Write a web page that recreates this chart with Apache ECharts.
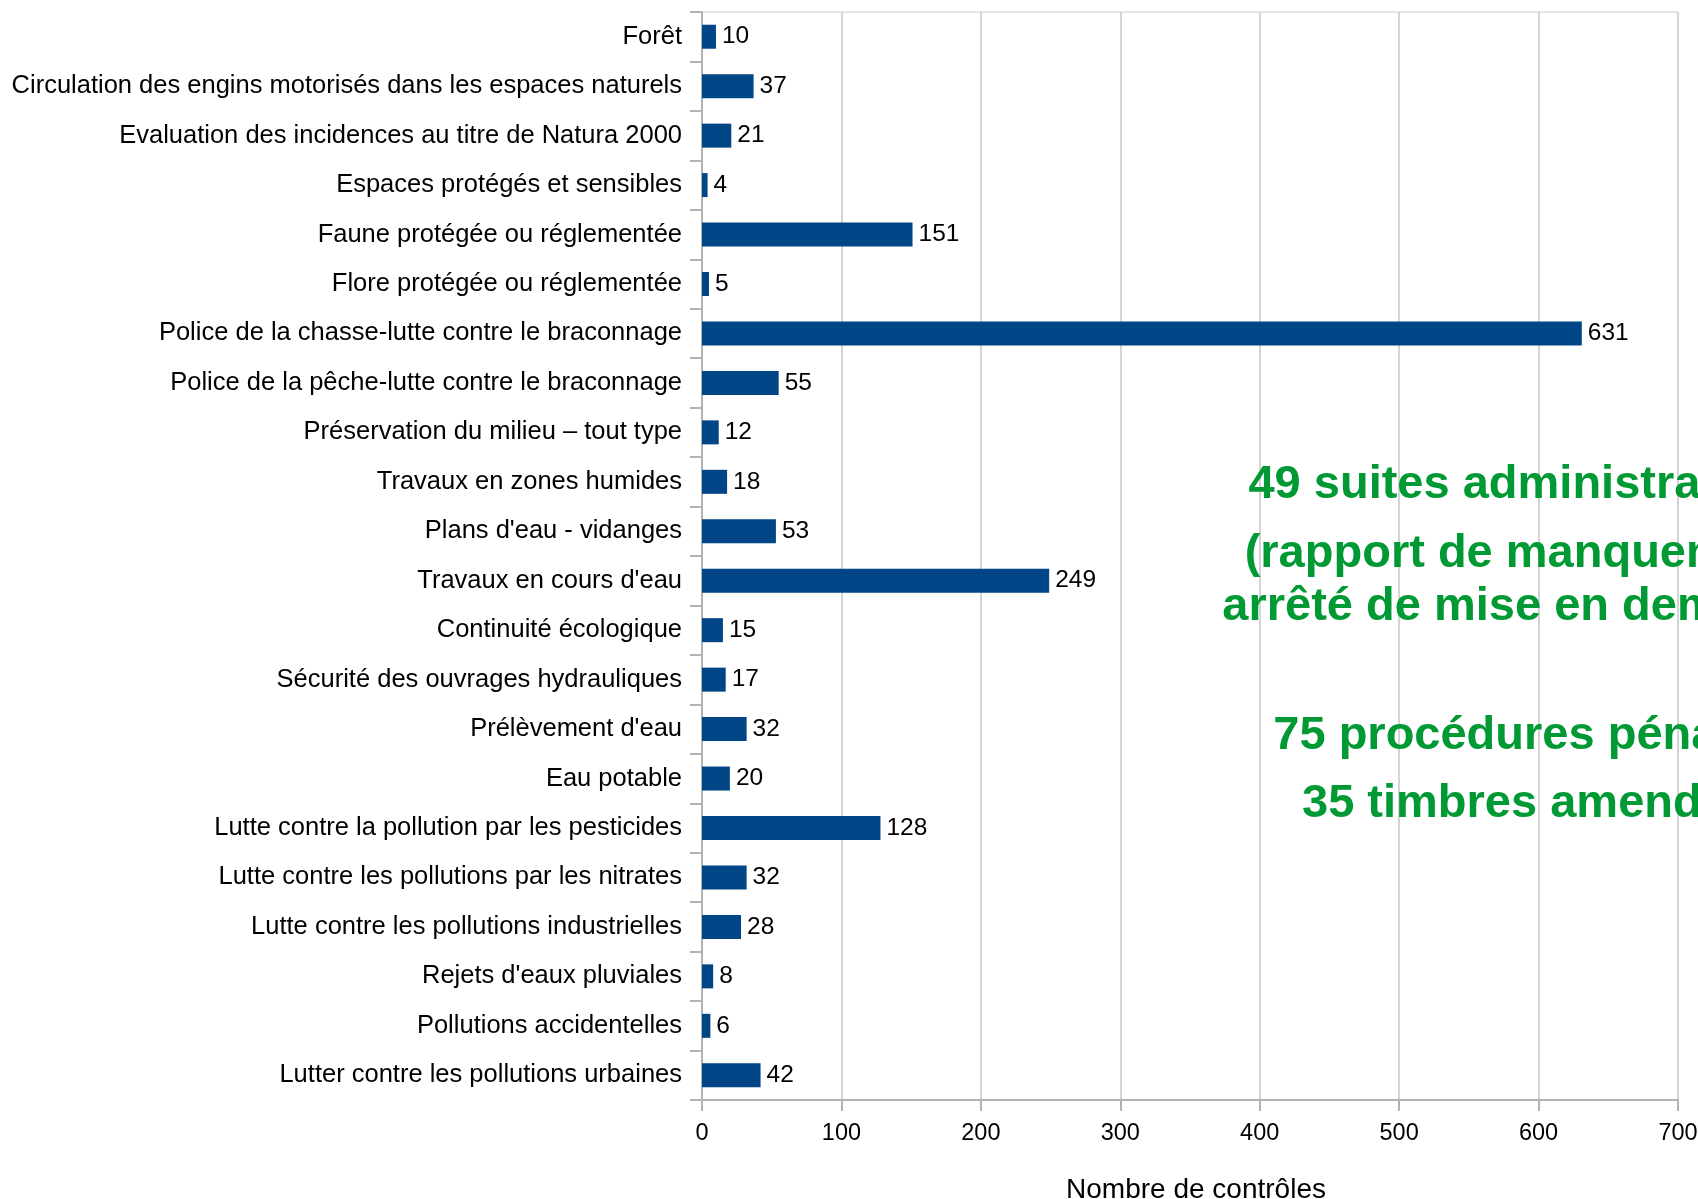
<!DOCTYPE html>
<html>
<head>
<meta charset="utf-8">
<script src="https://cdn.jsdelivr.net/npm/echarts@6/dist/echarts.min.js"></script>
<style>
html,body{margin:0;padding:0;background:#fff;}
#chart{width:1698px;height:1199px;}
</style>
</head>
<body>
<div id="chart"></div>
<script>
const categories = [
  "Forêt",
  "Circulation des engins motorisés dans les espaces naturels",
  "Evaluation des incidences au titre de Natura 2000",
  "Espaces protégés et sensibles",
  "Faune protégée ou réglementée",
  "Flore protégée ou réglementée",
  "Police de la chasse-lutte contre le braconnage",
  "Police de la pêche-lutte contre le braconnage",
  "Préservation du milieu – tout type",
  "Travaux en zones humides",
  "Plans d'eau - vidanges",
  "Travaux en cours d'eau",
  "Continuité écologique",
  "Sécurité des ouvrages hydrauliques",
  "Prélèvement d'eau",
  "Eau potable",
  "Lutte contre la pollution par les pesticides",
  "Lutte contre les pollutions par les nitrates",
  "Lutte contre les pollutions industrielles",
  "Rejets d'eaux pluviales",
  "Pollutions accidentelles",
  "Lutter contre les pollutions urbaines"
];
const controles = [10, 37, 21, 4, 151, 5, 631, 55, 12, 18, 53, 249, 15, 17, 32, 20, 128, 32, 28, 8, 6, 42];
const xTicks = { min: 0, max: 700, interval: 100 };
const axisName = "Nombre de contrôles";
const noteLines = [
  "49 suites administratives",
  "(rapport de manquement,",
  "arrêté de mise en demeure)",
  "75 procédures pénales",
  "35 timbres amendes"
];

const FONT = '"Liberation Sans", Arial, sans-serif';
const noteY = [485, 554, 607, 736, 804];

const chart = echarts.init(document.getElementById('chart'));
chart.setOption({
  animation: false,
  backgroundColor: '#ffffff',
  grid: { left: 702, right: 20, top: 12, bottom: 99, outerBoundsMode: 'none', containLabel: false,
          show: true, borderColor: '#cccccc', borderWidth: 1 },
  xAxis: {
    type: 'value',
    min: xTicks.min, max: xTicks.max, interval: xTicks.interval,
    name: axisName,
    nameLocation: 'middle',
    nameGap: 76,
    nameTextStyle: { fontFamily: FONT, fontSize: 28, color: '#000', padding: [0, 0, 0, 12] },
    axisLine: { show: true, lineStyle: { color: '#b3b3b3', width: 2 } },
    axisTick: { show: true, length: 11, lineStyle: { color: '#b3b3b3', width: 2 } },
    axisLabel: { fontFamily: FONT, fontSize: 23.5, color: '#000', margin: 22 },
    splitLine: { show: true, lineStyle: { color: '#d4d4d4', width: 2 } }
  },
  yAxis: {
    type: 'category',
    data: categories,
    inverse: true,
    axisLine: { show: true, lineStyle: { color: '#b3b3b3', width: 2 } },
    axisTick: { show: true, length: 12, lineStyle: { color: '#b3b3b3', width: 2 } },
    axisLabel: { fontFamily: FONT, fontSize: 25.5, color: '#000', margin: 20 },
    splitLine: { show: false }
  },
  series: [{
    type: 'bar',
    data: controles,
    barWidth: 24,
    itemStyle: { color: '#004586' },
    label: { show: true, position: 'right', distance: 6, fontFamily: FONT, fontSize: 24.5, color: '#000' }
  }],
  graphic: noteLines.map((t, i) => ({
    type: 'text',
    x: 1528, y: noteY[i],
    style: {
      text: t,
      fill: '#009933',
      font: 'bold 47px ' + FONT,
      textAlign: 'center',
      textVerticalAlign: 'middle'
    },
    z: 10
  }))
});
</script>
</body>
</html>
